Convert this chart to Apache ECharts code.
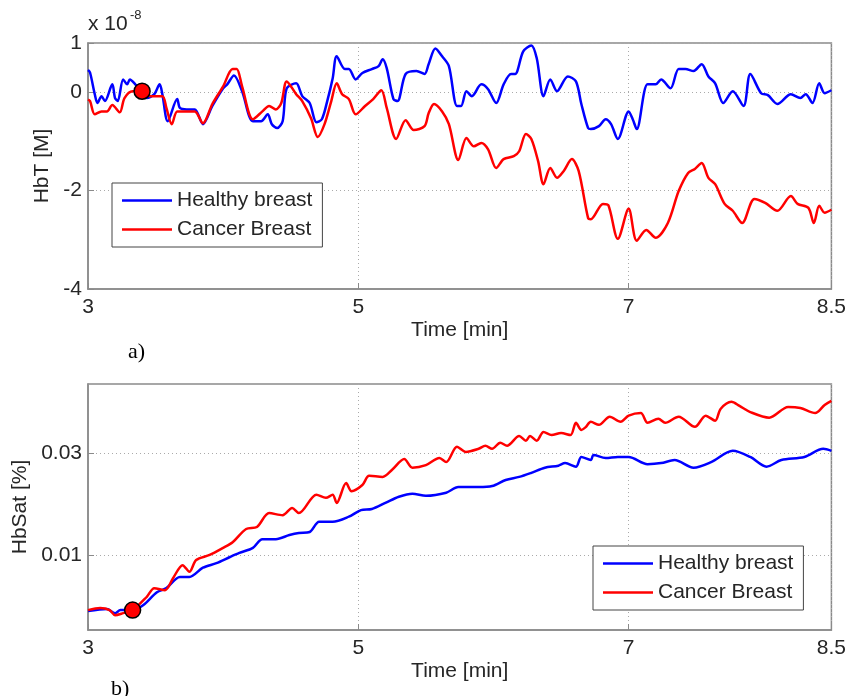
<!DOCTYPE html>
<html>
<head>
<meta charset="utf-8">
<script src="https://cdn.jsdelivr.net/npm/echarts@6/dist/echarts.min.js"></script>
<style>
  html, body { margin: 0; padding: 0; background: #fff; }
  #chart { width: 849px; height: 696px; }
</style>
</head>
<body>
<div id="chart"></div>
<script>
  // a) HbT, values in units of 1e-8 M
  const hbtHealthyTime = [3.00, 3.015, 3.05, 3.07, 3.10, 3.125, 3.18, 3.20, 3.22, 3.26, 3.29, 3.31, 3.35, 3.40, 3.435, 3.49, 3.53, 3.55, 3.59, 3.66, 3.68, 3.73, 3.79, 3.85, 3.92, 4.00, 4.03, 4.08, 4.14, 4.22, 4.28, 4.33, 4.36, 4.40, 4.44, 4.47, 4.54, 4.585, 4.64, 4.69, 4.73, 4.77, 4.81, 4.84, 4.90, 4.93, 4.98, 5.03, 5.10, 5.15, 5.18, 5.21, 5.26, 5.29, 5.35, 5.43, 5.49, 5.52, 5.57, 5.62, 5.67, 5.73, 5.76, 5.80, 5.84, 5.91, 5.96, 6.02, 6.075, 6.13, 6.16, 6.22, 6.28, 6.32, 6.37, 6.42, 6.47, 6.55, 6.61, 6.65, 6.70, 6.72, 6.78, 6.83, 6.87, 6.92, 7.00, 7.03, 7.06, 7.14, 7.20, 7.24, 7.31, 7.37, 7.42, 7.48, 7.54, 7.59, 7.64, 7.70, 7.77, 7.85, 7.90, 7.98, 8.03, 8.10, 8.20, 8.27, 8.31, 8.36, 8.41, 8.45, 8.50];
  const hbtHealthy = [0.45, 0.40, -0.04, -0.22, -0.08, -0.18, 0.16, -0.12, -0.18, 0.26, 0.16, 0.26, 0.16, 0.02, -0.12, -0.04, 0.16, -0.04, -0.59, -0.14, -0.32, -0.35, -0.35, -0.65, -0.28, 0.08, 0.16, 0.34, 0.02, -0.59, -0.59, -0.45, -0.65, -0.73, -0.59, 0.08, 0.18, -0.08, -0.22, -0.61, -0.55, -0.18, 0.28, 0.73, 0.47, 0.47, 0.26, 0.39, 0.47, 0.53, 0.67, 0.49, -0.14, -0.18, 0.37, 0.43, 0.37, 0.57, 0.89, 0.73, 0.53, -0.28, -0.28, 0.02, -0.08, 0.16, 0.06, -0.22, 0.16, 0.37, 0.37, 0.83, 0.95, 0.69, -0.08, 0.26, 0.02, 0.32, 0.22, -0.24, -0.73, -0.75, -0.69, -0.55, -0.65, -0.95, -0.39, -0.55, -0.75, 0.16, 0.16, 0.26, 0.08, 0.47, 0.47, 0.43, 0.57, 0.32, 0.18, -0.22, 0.02, -0.28, 0.37, -0.02, -0.06, -0.24, -0.04, -0.12, -0.04, -0.22, 0.18, -0.02, 0.04];
  const hbtCancerTime = [3.00, 3.015, 3.05, 3.10, 3.14, 3.18, 3.235, 3.27, 3.33, 3.40, 3.46, 3.55, 3.58, 3.62, 3.66, 3.73, 3.79, 3.85, 3.92, 4.00, 4.07, 4.10, 4.14, 4.22, 4.29, 4.34, 4.39, 4.43, 4.47, 4.54, 4.585, 4.65, 4.70, 4.75, 4.80, 4.84, 4.88, 4.93, 4.98, 5.05, 5.11, 5.17, 5.21, 5.28, 5.35, 5.41, 5.49, 5.52, 5.56, 5.62, 5.67, 5.74, 5.80, 5.855, 5.91, 5.96, 6.02, 6.075, 6.15, 6.19, 6.24, 6.28, 6.33, 6.37, 6.42, 6.47, 6.52, 6.58, 6.63, 6.70, 6.72, 6.81, 6.85, 6.92, 7.00, 7.06, 7.13, 7.20, 7.29, 7.37, 7.44, 7.49, 7.54, 7.59, 7.64, 7.71, 7.77, 7.84, 7.93, 8.01, 8.10, 8.20, 8.25, 8.33, 8.37, 8.41, 8.45, 8.50];
  const hbtCancer = [-0.15, -0.18, -0.45, -0.39, -0.39, -0.26, -0.41, -0.12, 0.02, 0.02, -0.08, -0.08, -0.32, -0.65, -0.39, -0.39, -0.39, -0.63, -0.24, 0.12, 0.47, 0.47, 0.12, -0.55, -0.39, -0.28, -0.35, -0.22, 0.22, -0.04, -0.18, -0.53, -0.91, -0.65, -0.18, 0.18, -0.04, -0.14, -0.45, -0.28, -0.14, 0.04, -0.32, -0.95, -0.57, -0.77, -0.69, -0.43, -0.24, -0.39, -0.65, -1.38, -0.93, -1.10, -1.03, -1.16, -1.54, -1.36, -1.30, -1.20, -0.85, -0.95, -1.40, -1.87, -1.54, -1.74, -1.60, -1.36, -1.60, -2.56, -2.58, -2.27, -2.30, -2.98, -2.37, -3.02, -2.80, -2.96, -2.66, -2.01, -1.64, -1.56, -1.44, -1.74, -1.87, -2.27, -2.41, -2.66, -2.17, -2.25, -2.41, -2.11, -2.27, -2.35, -2.66, -2.31, -2.45, -2.39];

  // b) HbSat
  const satHealthyTime = [3.00, 3.14, 3.20, 3.24, 3.33, 3.41, 3.51, 3.58, 3.68, 3.75, 3.85, 3.95, 4.05, 4.12, 4.22, 4.29, 4.39, 4.49, 4.56, 4.64, 4.71, 4.81, 4.93, 5.02, 5.10, 5.20, 5.30, 5.40, 5.50, 5.65, 5.74, 5.89, 5.99, 6.09, 6.19, 6.28, 6.38, 6.48, 6.53, 6.61, 6.65, 6.72, 6.74, 6.83, 6.92, 7.00, 7.14, 7.24, 7.34, 7.48, 7.61, 7.77, 7.90, 8.02, 8.13, 8.30, 8.44, 8.50];
  const satHealthy = [-0.0010, -0.0006, -0.0014, -0.0008, -0.0008, 0.0002, 0.0027, 0.0035, 0.0057, 0.0057, 0.0075, 0.0084, 0.0096, 0.0104, 0.0114, 0.0131, 0.0131, 0.0139, 0.0143, 0.0145, 0.0165, 0.0165, 0.0175, 0.0188, 0.0190, 0.0202, 0.0214, 0.0220, 0.0216, 0.0222, 0.0233, 0.0233, 0.0235, 0.0247, 0.0253, 0.0261, 0.0271, 0.0275, 0.0280, 0.0273, 0.0292, 0.0286, 0.0296, 0.0290, 0.0292, 0.0292, 0.0278, 0.0280, 0.0286, 0.0271, 0.0282, 0.0304, 0.0292, 0.0273, 0.0286, 0.0292, 0.0308, 0.0304];
  const satCancerTime = [3.00, 3.09, 3.16, 3.20, 3.26, 3.33, 3.435, 3.49, 3.57, 3.63, 3.70, 3.75, 3.80, 3.90, 4.00, 4.07, 4.17, 4.25, 4.34, 4.44, 4.51, 4.56, 4.69, 4.76, 4.81, 4.84, 4.91, 4.95, 5.03, 5.08, 5.18, 5.25, 5.34, 5.40, 5.50, 5.60, 5.65, 5.73, 5.795, 5.89, 5.94, 5.99, 6.05, 6.10, 6.19, 6.24, 6.27, 6.32, 6.37, 6.43, 6.50, 6.57, 6.61, 6.65, 6.68, 6.72, 6.78, 6.86, 6.94, 7.00, 7.09, 7.14, 7.22, 7.27, 7.37, 7.49, 7.57, 7.64, 7.68, 7.76, 7.82, 7.90, 8.04, 8.18, 8.27, 8.38, 8.45, 8.50];
  const satCancer = [-0.0008, -0.0004, -0.0008, -0.0018, -0.0014, -0.0008, 0.0018, 0.0035, 0.0031, 0.0055, 0.0080, 0.0067, 0.0090, 0.0100, 0.0114, 0.0125, 0.0151, 0.0155, 0.0182, 0.0178, 0.0192, 0.0182, 0.0218, 0.0212, 0.0218, 0.0202, 0.0241, 0.0225, 0.0237, 0.0255, 0.0253, 0.0267, 0.0288, 0.0271, 0.0276, 0.0290, 0.0282, 0.0312, 0.0302, 0.0308, 0.0314, 0.0308, 0.0320, 0.0314, 0.0333, 0.0324, 0.0333, 0.0324, 0.0341, 0.0335, 0.0339, 0.0335, 0.0359, 0.0345, 0.0350, 0.0361, 0.0355, 0.0371, 0.0361, 0.0373, 0.0378, 0.0359, 0.0367, 0.0359, 0.0371, 0.0351, 0.0373, 0.0363, 0.0386, 0.0400, 0.0392, 0.0380, 0.0369, 0.0390, 0.0388, 0.0378, 0.0394, 0.0402];

  // start markers
  const markerHbT = [3.40, 0.02];
  const markerSat = [3.33, -0.0008];

  const xTicks = [3, 5, 7, 8.5];
  const hbtTicks = [-4, -2, 0, 1];
  const satTicks = [0.01, 0.03];

  const zip = (t, v) => t.map((x, i) => [x, v[i]]);

  const textColor = '#262626';
  const boxColor = '#8a8a8a';
  const font = 'Liberation Sans, Arial, sans-serif';

  function xAxisFor(gridIndex) {
    return {
      type: 'value', gridIndex: gridIndex, min: 3, max: 8.5,
      name: 'Time [min]', nameLocation: 'middle', nameGap: 31,
      nameTextStyle: { color: textColor, fontSize: 21, fontFamily: font },
      axisLine: { onZero: false, lineStyle: { color: boxColor, width: 1.5 } },
      axisTick: { inside: true, length: 6, customValues: xTicks, lineStyle: { color: boxColor } },
      axisLabel: { customValues: xTicks, margin: 8, color: textColor, fontSize: 21, fontFamily: font },
      splitLine: { show: true, lineStyle: { color: '#aaa', type: [1, 3] } }
    };
  }

  function line(name, color, xi, data) {
    return {
      name: name, type: 'line', xAxisIndex: xi, yAxisIndex: xi,
      data: data, symbol: 'none', smooth: 0.3,
      lineStyle: { color: color, width: 2.5 }, itemStyle: { color: color }
    };
  }

  function marker(xi, pt) {
    return {
      type: 'scatter', xAxisIndex: xi, yAxisIndex: xi, data: [pt],
      symbolSize: 16, z: 5, silent: true,
      itemStyle: { color: '#ff0000', borderColor: '#000', borderWidth: 1.5, opacity: 1 }
    };
  }

  function legendAt(left, top) {
    return {
      orient: 'vertical', left: left, top: top,
      data: ['Healthy breast', 'Cancer Breast'],
      icon: 'rect',
      backgroundColor: '#fff', borderColor: '#444', borderWidth: 1,
      padding: [6, 10, 6, 10], itemGap: 6, itemWidth: 50, itemHeight: 2.5,
      textStyle: { color: textColor, fontSize: 21, fontFamily: font, lineHeight: 23 }
    };
  }

  const chart = echarts.init(document.getElementById('chart'));
  const option = {
    animation: false,
    backgroundColor: '#fff',
    grid: [
      { left: 88, top: 43, width: 746, height: 246, show: true, borderColor: boxColor, borderWidth: 1.5 },
      { left: 88, top: 384, width: 746, height: 246, show: true, borderColor: boxColor, borderWidth: 1.5 }
    ],
    xAxis: [xAxisFor(0), xAxisFor(1)],
    yAxis: [
      {
        type: 'value', gridIndex: 0, min: -4, max: 1,
        name: 'HbT [M]', nameLocation: 'middle', nameGap: 30,
        nameTextStyle: { color: textColor, fontSize: 21, fontFamily: font },
        axisLine: { show: true, onZero: false, lineStyle: { color: boxColor, width: 1.5 } },
        axisTick: { show: true, inside: true, length: 6, customValues: hbtTicks, lineStyle: { color: boxColor } },
        axisLabel: { customValues: hbtTicks, margin: 6, color: textColor, fontSize: 21, fontFamily: font },
        splitLine: { show: true, lineStyle: { color: '#aaa', type: [1, 3] } }
      },
      {
        type: 'value', gridIndex: 1, min: -0.0047, max: 0.0435,
        name: 'HbSat [%]', nameLocation: 'middle', nameGap: 53,
        nameTextStyle: { color: textColor, fontSize: 21, fontFamily: font },
        axisLine: { show: true, onZero: false, lineStyle: { color: boxColor, width: 1.5 } },
        axisTick: { show: true, inside: true, length: 6, customValues: satTicks, lineStyle: { color: boxColor } },
        axisLabel: { customValues: satTicks, margin: 6, color: textColor, fontSize: 21, fontFamily: font, formatter: v => v.toFixed(2) },
        splitLine: { show: true, lineStyle: { color: '#aaa', type: [1, 3] } }
      }
    ],
    legend: [legendAt(112, 183), legendAt(593, 546)],
    graphic: [
      { type: 'text', left: 88, top: 14, style: { text: 'x 10', fill: textColor, font: '21px ' + font } },
      { type: 'text', left: 130, top: 9, style: { text: '-8', fill: textColor, font: '13px ' + font } },
      { type: 'text', left: 128, top: 341, style: { text: 'a)', fill: '#000', font: '22px Liberation Serif, Times New Roman, serif' } },
      { type: 'text', left: 111, top: 678, style: { text: 'b)', fill: '#000', font: '22px Liberation Serif, Times New Roman, serif' } }
    ],
    series: [
      line('Healthy breast', '#0000ff', 0, zip(hbtHealthyTime, hbtHealthy)),
      line('Cancer Breast', '#ff0000', 0, zip(hbtCancerTime, hbtCancer)),
      marker(0, markerHbT),
      line('Healthy breast', '#0000ff', 1, zip(satHealthyTime, satHealthy)),
      line('Cancer Breast', '#ff0000', 1, zip(satCancerTime, satCancer)),
      marker(1, markerSat)
    ]
  };
  chart.setOption(option);
  window.onresize = function () {
    chart.resize();
  };
</script>
</body>
</html>
